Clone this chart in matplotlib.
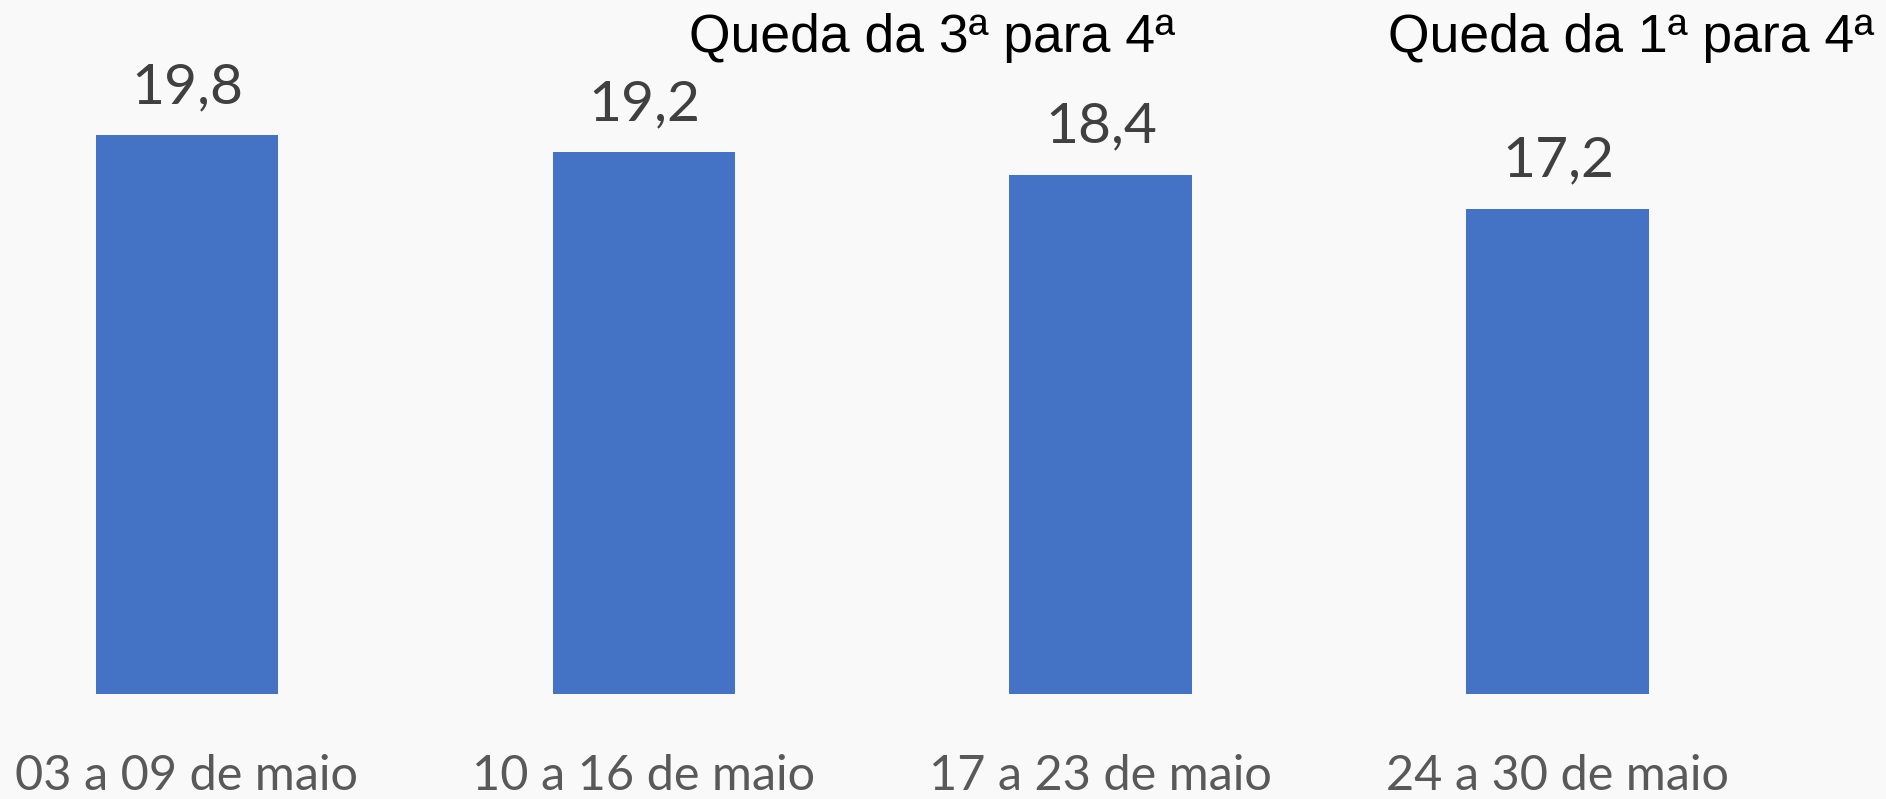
import matplotlib
matplotlib.use("Agg")
import matplotlib.pyplot as plt
import numpy as np

# dados
semanas = ["03 a 09 de maio", "10 a 16 de maio", "17 a 23 de maio", "24 a 30 de maio"]
valores = [19.8, 19.2, 18.4, 17.2]
notas = ["Queda da 3ª para 4ª", "Queda da 1ª para 4ª"]
notas_x = [1.63, 3.16]

bg = "#f9f9f9"
azul = "#4472c4"

fig = plt.figure(figsize=(18.86, 7.99), dpi=100, facecolor=bg)
ax = fig.add_axes([0, 0, 1, 1], facecolor=bg)

x = np.arange(len(semanas))
bars = ax.bar(x, valores, width=0.4, color=azul)

ax.set_xlim(-0.409, 3.718)
ax.set_ylim(-3.72, 24.6)

for xi, v in zip(x, valores):
    ax.annotate(f"{v:.1f}".replace(".", ","), (xi, v), xytext=(0, 16),
                textcoords="offset points", ha="center", va="bottom",
                fontsize=41, color="#404040", family=["Lato", "DejaVu Sans"])

# rotulos das semanas, encostados na borda de baixo
for xi, lab in zip(x, semanas):
    ax.text(xi, -3.68, lab, ha="center", va="bottom", fontsize=35,
            color="#595959", family=["Lato", "DejaVu Sans"])

for xn, txt in zip(notas_x, notas):
    ax.text(xn, 23.25, txt, ha="center", va="center", fontsize=38.5,
            color="black", family=["Liberation Sans", "DejaVu Sans"])

ax.axis("off")
fig.savefig("out.png", dpi=100, facecolor=bg)
